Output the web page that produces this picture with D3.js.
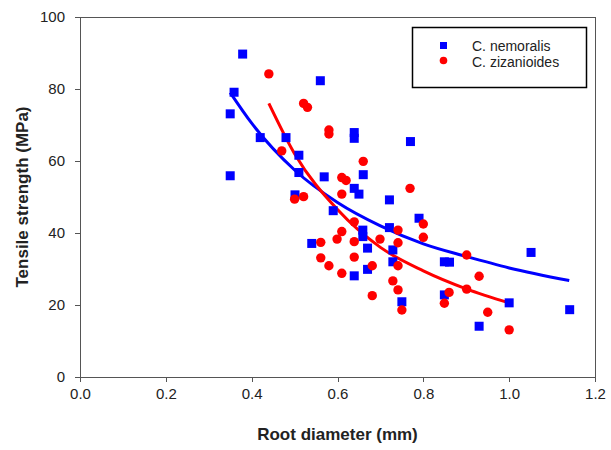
<!DOCTYPE html>
<html>
<head>
<meta charset="UTF-8" />
<title>Tensile strength vs root diameter</title>
<script src="https://d3js.org/d3.v7.min.js"></script>
<style>
  body { margin: 0; background: #fff; }
  text { font-family: "Liberation Sans", Arial, sans-serif; fill: #222; }
  .axis path, .axis line { stroke: #555; shape-rendering: crispEdges; }
  .axis text { font-size: 15px; }
  .title { font-size: 17px; font-weight: bold; }
  .legend text { font-size: 14px; }
</style>
</head>
<body>
<div id="chart"></div>
<script>
// C. nemoralis (blue squares): root diameter (mm), tensile strength (MPa)
var nemDiam = [0.379, 0.359, 0.350, 0.420, 0.480, 0.560, 0.639, 0.639, 0.770, 0.510,
               0.350, 0.510, 0.569, 0.660, 0.639, 0.650, 0.501, 0.721, 0.590, 0.790,
               0.721, 0.659, 0.659, 0.540, 0.670, 0.729, 1.051, 0.729, 0.849, 0.861,
               0.670, 0.639, 0.849, 0.750, 1.000, 1.141, 0.930];
var nemStrength = [89.7, 79.1, 73.1, 66.5, 66.5, 82.3, 67.9, 66.3, 65.4, 61.6,
                   55.9, 56.8, 55.6, 56.2, 52.4, 50.8, 50.6, 49.2, 46.2, 44.1,
                   41.5, 40.8, 39.0, 37.1, 35.8, 35.3, 34.6, 32.0, 32.0, 31.9,
                   29.9, 28.1, 22.8, 20.9, 20.6, 18.7, 14.1];

// C. zizanioides (red circles)
var zizDiam = [0.440, 0.521, 0.530, 0.580, 0.580, 0.470, 0.660, 0.610, 0.620, 0.769,
               0.500, 0.521, 0.610, 0.639, 0.741, 0.610, 0.599, 0.699, 0.561, 0.639,
               0.741, 0.800, 0.800, 0.561, 0.639, 0.580, 0.681, 0.741, 0.901, 0.610,
               0.729, 0.741, 0.930, 0.860, 0.901, 0.681, 0.849, 0.750, 0.950, 1.000];
var zizStrength = [84.2, 76.0, 74.9, 68.6, 67.5, 62.8, 59.9, 55.4, 54.6, 52.4,
                   49.4, 50.1, 50.8, 43.1, 40.8, 40.4, 38.3, 38.3, 37.4, 37.6,
                   37.3, 42.5, 38.8, 33.1, 33.3, 30.9, 30.9, 30.9, 33.9, 28.8,
                   26.7, 24.2, 28.0, 23.5, 24.4, 22.6, 20.5, 18.6, 18.0, 13.1];

// trend lines
var nemFitX = [0.35, 0.40, 0.50, 0.60, 0.70, 0.80, 0.90, 1.00, 1.14];
var nemFitY = [79.0, 70.5, 57.5, 48.5, 42.0, 37.0, 33.5, 30.3, 26.8];
var zizFitX = [0.44, 0.50, 0.60, 0.70, 0.80, 0.90, 1.00];
var zizFitY = [76.0, 62.0, 46.5, 36.0, 29.5, 24.5, 20.6];

var xTicks = [0, 0.2, 0.4, 0.6, 0.8, 1.0, 1.2];
var yTicks = [0, 20, 40, 60, 80, 100];
var seriesNames = ["C. nemoralis", "C. zizanioides"];

var margin = {top: 17, right: 16, bottom: 73, left: 80},
    W = 611, H = 450,
    width = W - margin.left - margin.right,
    height = H - margin.top - margin.bottom;

var x = d3.scaleLinear().domain([0, 1.2]).range([0, width]);
var y = d3.scaleLinear().domain([0, 100]).range([height, 0]);

var svg = d3.select("#chart").append("svg")
    .attr("width", W)
    .attr("height", H)
  .append("g")
    .attr("transform", "translate(" + margin.left + "," + margin.top + ")");

// frame (top and right)
svg.append("path")
    .attr("d", "M0,0.5H" + width + "V" + height)
    .attr("fill", "none")
    .attr("stroke", "#555")
    .attr("shape-rendering", "crispEdges");

svg.append("g")
    .attr("class", "x axis")
    .attr("transform", "translate(0," + height + ")")
    .call(d3.axisBottom(x).tickValues(xTicks).tickFormat(d3.format(".1f")).tickSizeOuter(0).tickSize(5).tickPadding(6));

svg.append("g")
    .attr("class", "y axis")
    .call(d3.axisLeft(y).tickValues(yTicks).tickSizeOuter(0).tickSize(5).tickPadding(10));

svg.selectAll(".axis text").attr("fill", "#222");

svg.append("text")
    .attr("class", "title")
    .attr("x", x(0.6))
    .attr("y", height + 63)
    .attr("text-anchor", "middle")
    .text("Root diameter (mm)");

svg.append("text")
    .attr("class", "title")
    .attr("transform", "translate(" + (-52) + "," + (height / 2) + ") rotate(-90)")
    .attr("text-anchor", "middle")
    .text("Tensile strength (MPa)");

var line = d3.line()
    .x(function(d) { return x(d[0]); })
    .y(function(d) { return y(d[1]); })
    .curve(d3.curveMonotoneX);

svg.append("path")
    .datum(d3.zip(nemFitX, nemFitY))
    .attr("fill", "none")
    .attr("stroke", "#0000ff")
    .attr("stroke-width", 3)
    .attr("d", line);

svg.append("path")
    .datum(d3.zip(zizFitX, zizFitY))
    .attr("fill", "none")
    .attr("stroke", "#ff0000")
    .attr("stroke-width", 3)
    .attr("d", line);

var sq = 9;
svg.append("g").selectAll("rect")
    .data(d3.zip(nemDiam, nemStrength))
    .enter().append("rect")
    .attr("x", function(d) { return x(d[0]) - sq / 2; })
    .attr("y", function(d) { return y(d[1]) - sq / 2; })
    .attr("width", sq)
    .attr("height", sq)
    .attr("fill", "#0000ff");

svg.append("g").selectAll("circle")
    .data(d3.zip(zizDiam, zizStrength))
    .enter().append("circle")
    .attr("cx", function(d) { return x(d[0]); })
    .attr("cy", function(d) { return y(d[1]); })
    .attr("r", 4.7)
    .attr("fill", "#ff0000");

// legend
var lg = svg.append("g")
    .attr("class", "legend")
    .attr("transform", "translate(" + (412 - margin.left) + "," + (27 - margin.top) + ")");

lg.append("rect")
    .attr("x", 0.5).attr("y", 0.5)
    .attr("width", 174).attr("height", 60)
    .attr("fill", "#fff")
    .attr("stroke", "#000")
    .attr("stroke-width", 1.5);

lg.append("rect")
    .attr("x", 28).attr("y", 15)
    .attr("width", 7).attr("height", 7)
    .attr("fill", "#0000ff");

lg.append("circle")
    .attr("cx", 31.5).attr("cy", 33.5)
    .attr("r", 3.8)
    .attr("fill", "#ff0000");

lg.selectAll("text.lab")
    .data(seriesNames)
    .enter().append("text")
    .attr("class", "lab")
    .attr("x", 60)
    .attr("y", function(d, i) { return 24 + i * 16; })
    .text(function(d) { return d; });
</script>
</body>
</html>
